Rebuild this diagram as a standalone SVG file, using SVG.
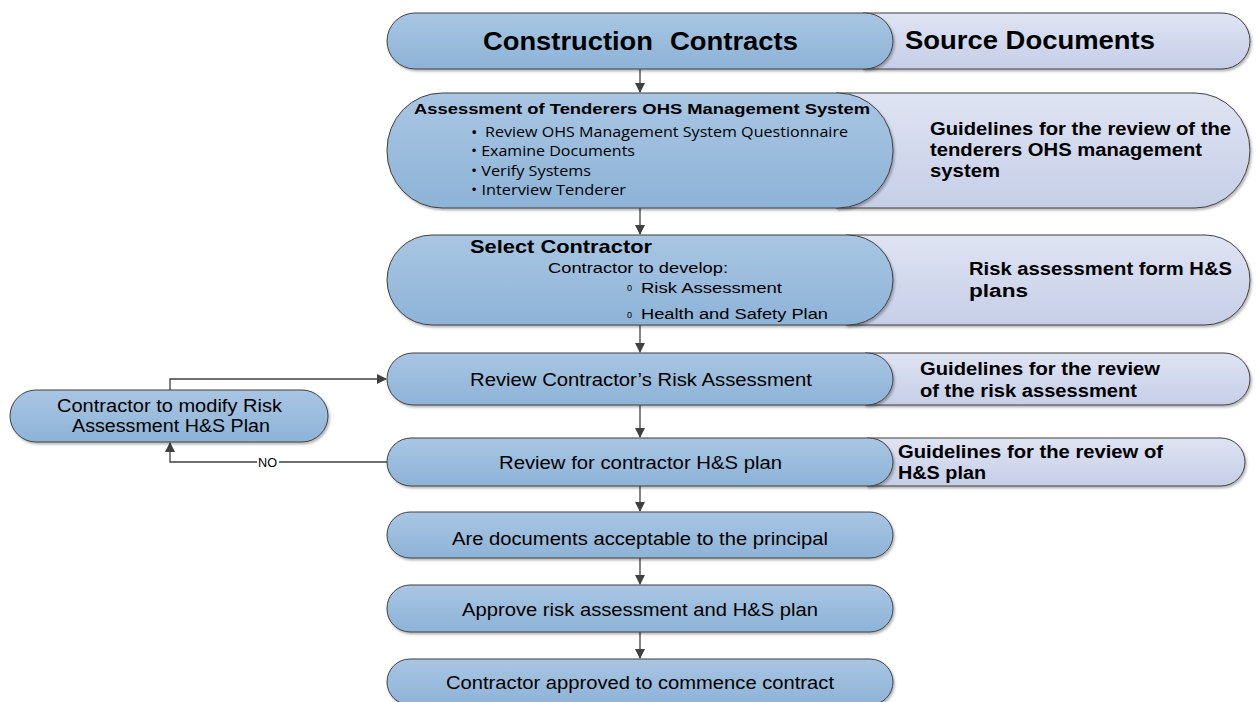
<svg xmlns="http://www.w3.org/2000/svg" width="1256" height="702" viewBox="0 0 1256 702">
  <style>
    .step { fill: url(#blueFill); stroke: #3f3f3f; stroke-width: 1; filter: url(#shadow); }
    .src { fill: url(#lilacFill); stroke: #3f3f3f; stroke-width: 1; filter: url(#shadow); }
    .t { font-family: "Liberation Sans", Arial, sans-serif; fill: #000; }
    .b { font-weight: bold; }
    .cal { font-family: "Open Sans", "Liberation Sans", sans-serif; fill: #000; }
    .wire { fill: none; stroke: #404040; stroke-width: 1.3; }
  </style>
  <defs>
    <linearGradient id="blueFill" x1="0" y1="0" x2="0" y2="1">
      <stop offset="0" stop-color="#a9c6e3"/>
      <stop offset="1" stop-color="#8db3d7"/>
    </linearGradient>
    <linearGradient id="lilacFill" x1="0" y1="0" x2="0" y2="1">
      <stop offset="0" stop-color="#dfe4f3"/>
      <stop offset="1" stop-color="#c6cee7"/>
    </linearGradient>
    <filter id="shadow" x="-5%" y="-10%" width="110%" height="130%">
      <feDropShadow dx="1.5" dy="2" stdDeviation="1.2" flood-color="#000" flood-opacity="0.28"/>
    </filter>
    <marker id="arrow" markerWidth="10" markerHeight="10" refX="9" refY="5" orient="auto" markerUnits="userSpaceOnUse">
      <path d="M0,0 L10,5 L0,10 Z" fill="#404040"/>
    </marker>
  </defs>

  <!-- source document panels: flat left side hidden under the steps' rounded ends -->
  <g id="src-header"><path class="src" d="M863,13 H1222 A28,28 0 0 1 1222,69 H863 Z"/></g>
  <g id="src-ohs"><path class="src" d="M836,93 H1195 A55,57.5 0 0 1 1195,208 H836 Z"/></g>
  <g id="src-risk-form"><path class="src" d="M846,235 H1205 A45,45 0 0 1 1205,325 H846 Z"/></g>
  <g id="src-review-ra"><path class="src" d="M865,353 H1224 A26,26 0 0 1 1224,405 H865 Z"/></g>
  <g id="src-review-hs"><path class="src" d="M867,438 H1221 A24,24 0 0 1 1221,486 H867 Z"/></g>

  <!-- connectors -->
  <g id="connectors">
    <path class="wire" d="M640,69 V92" marker-end="url(#arrow)"/>
    <path class="wire" d="M640,208 V234" marker-end="url(#arrow)"/>
    <path class="wire" d="M640,325 V352" marker-end="url(#arrow)"/>
    <path class="wire" d="M640,405 V437" marker-end="url(#arrow)"/>
    <path class="wire" d="M640,486 V511" marker-end="url(#arrow)"/>
    <path class="wire" d="M640,558 V584" marker-end="url(#arrow)"/>
    <path class="wire" d="M640,632 V658" marker-end="url(#arrow)"/>
    <path class="wire" d="M170,390 V379 H386" marker-end="url(#arrow)"/>
    <path class="wire" d="M387,462 H170 V443" marker-end="url(#arrow)"/>
    <rect x="257" y="456" width="22" height="12" fill="#fff"/>
    <text class="t" x="258" y="466.5" font-size="12" textLength="19" lengthAdjust="spacingAndGlyphs">NO</text>
  </g>

  <!-- process steps -->
  <g id="construction-contracts">
    <rect class="step" x="387" y="13" width="506" height="56" rx="28" ry="28"/>
    <text class="t b" x="483" y="50" font-size="26" textLength="170" lengthAdjust="spacingAndGlyphs">Construction</text>
    <text class="t b" x="670" y="50" font-size="26" textLength="128" lengthAdjust="spacingAndGlyphs">Contracts</text>
  </g>
  <text class="t b" x="905" y="49" font-size="26" textLength="250" lengthAdjust="spacingAndGlyphs">Source Documents</text>

  <g id="assess-tenderers">
    <rect class="step" x="387" y="93" width="506" height="115" rx="55" ry="57"/>
    <text class="t b" x="414" y="114" font-size="15.5" textLength="456" lengthAdjust="spacingAndGlyphs">Assessment of Tenderers OHS Management System</text>
    <g class="cal" font-size="14.5">
      <text x="471" y="137.5" font-size="17">•</text>
      <text x="485" y="137" textLength="363" lengthAdjust="spacingAndGlyphs">Review OHS Management System Questionnaire</text>
      <text x="471" y="156" textLength="164" lengthAdjust="spacingAndGlyphs">• Examine Documents</text>
      <text x="471" y="175.5" textLength="120" lengthAdjust="spacingAndGlyphs">• Verify Systems</text>
      <text x="471" y="195" textLength="155" lengthAdjust="spacingAndGlyphs">• Interview Tenderer</text>
    </g>
  </g>
  <g class="t b" font-size="18">
    <text x="930" y="135" textLength="301" lengthAdjust="spacingAndGlyphs">Guidelines for the review of the</text>
    <text x="930" y="156" textLength="272" lengthAdjust="spacingAndGlyphs">tenderers OHS management</text>
    <text x="930" y="177" textLength="70" lengthAdjust="spacingAndGlyphs">system</text>
  </g>

  <g id="select-contractor">
    <rect class="step" x="387" y="235" width="506" height="90" rx="45" ry="45"/>
    <text class="t b" x="470" y="252.5" font-size="18.5" textLength="182" lengthAdjust="spacingAndGlyphs">Select Contractor</text>
    <text class="t" x="548" y="272.5" font-size="14" textLength="180" lengthAdjust="spacingAndGlyphs">Contractor to develop:</text>
    <text class="t" x="627" y="291" font-size="9">0</text>
    <text class="t" x="641" y="292.5" font-size="14" textLength="141" lengthAdjust="spacingAndGlyphs">Risk Assessment</text>
    <text class="t" x="627" y="318" font-size="9">0</text>
    <text class="t" x="641" y="319" font-size="14" textLength="187" lengthAdjust="spacingAndGlyphs">Health and Safety Plan</text>
  </g>
  <g class="t b" font-size="18">
    <text x="969" y="275" textLength="263" lengthAdjust="spacingAndGlyphs">Risk assessment form H&amp;S</text>
    <text x="969" y="297" textLength="59" lengthAdjust="spacingAndGlyphs">plans</text>
  </g>

  <g id="review-risk-assessment">
    <rect class="step" x="387" y="353" width="506" height="52" rx="26" ry="26"/>
    <text class="t" x="470" y="386" font-size="17.5" textLength="342" lengthAdjust="spacingAndGlyphs">Review Contractor’s Risk Assessment</text>
  </g>
  <g class="t b" font-size="18">
    <text x="920" y="375" textLength="240" lengthAdjust="spacingAndGlyphs">Guidelines for the review</text>
    <text x="920" y="397" textLength="217" lengthAdjust="spacingAndGlyphs">of the risk assessment</text>
  </g>

  <g id="modify-plan">
    <rect class="step" x="10" y="390" width="318" height="52" rx="26" ry="26"/>
    <text class="t" x="57" y="412" font-size="17.5" textLength="225" lengthAdjust="spacingAndGlyphs">Contractor to modify Risk</text>
    <text class="t" x="72" y="432" font-size="17.5" textLength="198" lengthAdjust="spacingAndGlyphs">Assessment H&amp;S Plan</text>
  </g>

  <g id="review-hs-plan">
    <rect class="step" x="387" y="438" width="506" height="48" rx="24" ry="24"/>
    <text class="t" x="499" y="469" font-size="17.5" textLength="283" lengthAdjust="spacingAndGlyphs">Review for contractor H&amp;S plan</text>
  </g>
  <g class="t b" font-size="18">
    <text x="898" y="458" textLength="265" lengthAdjust="spacingAndGlyphs">Guidelines for the review of</text>
    <text x="898" y="479" textLength="88" lengthAdjust="spacingAndGlyphs">H&amp;S plan</text>
  </g>

  <g id="documents-acceptable">
    <rect class="step" x="387" y="512" width="506" height="46" rx="23" ry="23"/>
    <text class="t" x="452" y="544.5" font-size="17.5" textLength="376" lengthAdjust="spacingAndGlyphs">Are documents acceptable to the principal</text>
  </g>

  <g id="approve-plan">
    <rect class="step" x="387" y="585" width="506" height="47" rx="23" ry="23"/>
    <text class="t" x="462" y="615.5" font-size="17.5" textLength="356" lengthAdjust="spacingAndGlyphs">Approve risk assessment and H&amp;S plan</text>
  </g>

  <g id="commence-contract">
    <rect class="step" x="387" y="659" width="506" height="46" rx="23" ry="23"/>
    <text class="t" x="446" y="689" font-size="17.5" textLength="388" lengthAdjust="spacingAndGlyphs">Contractor approved to commence contract</text>
  </g>
</svg>
